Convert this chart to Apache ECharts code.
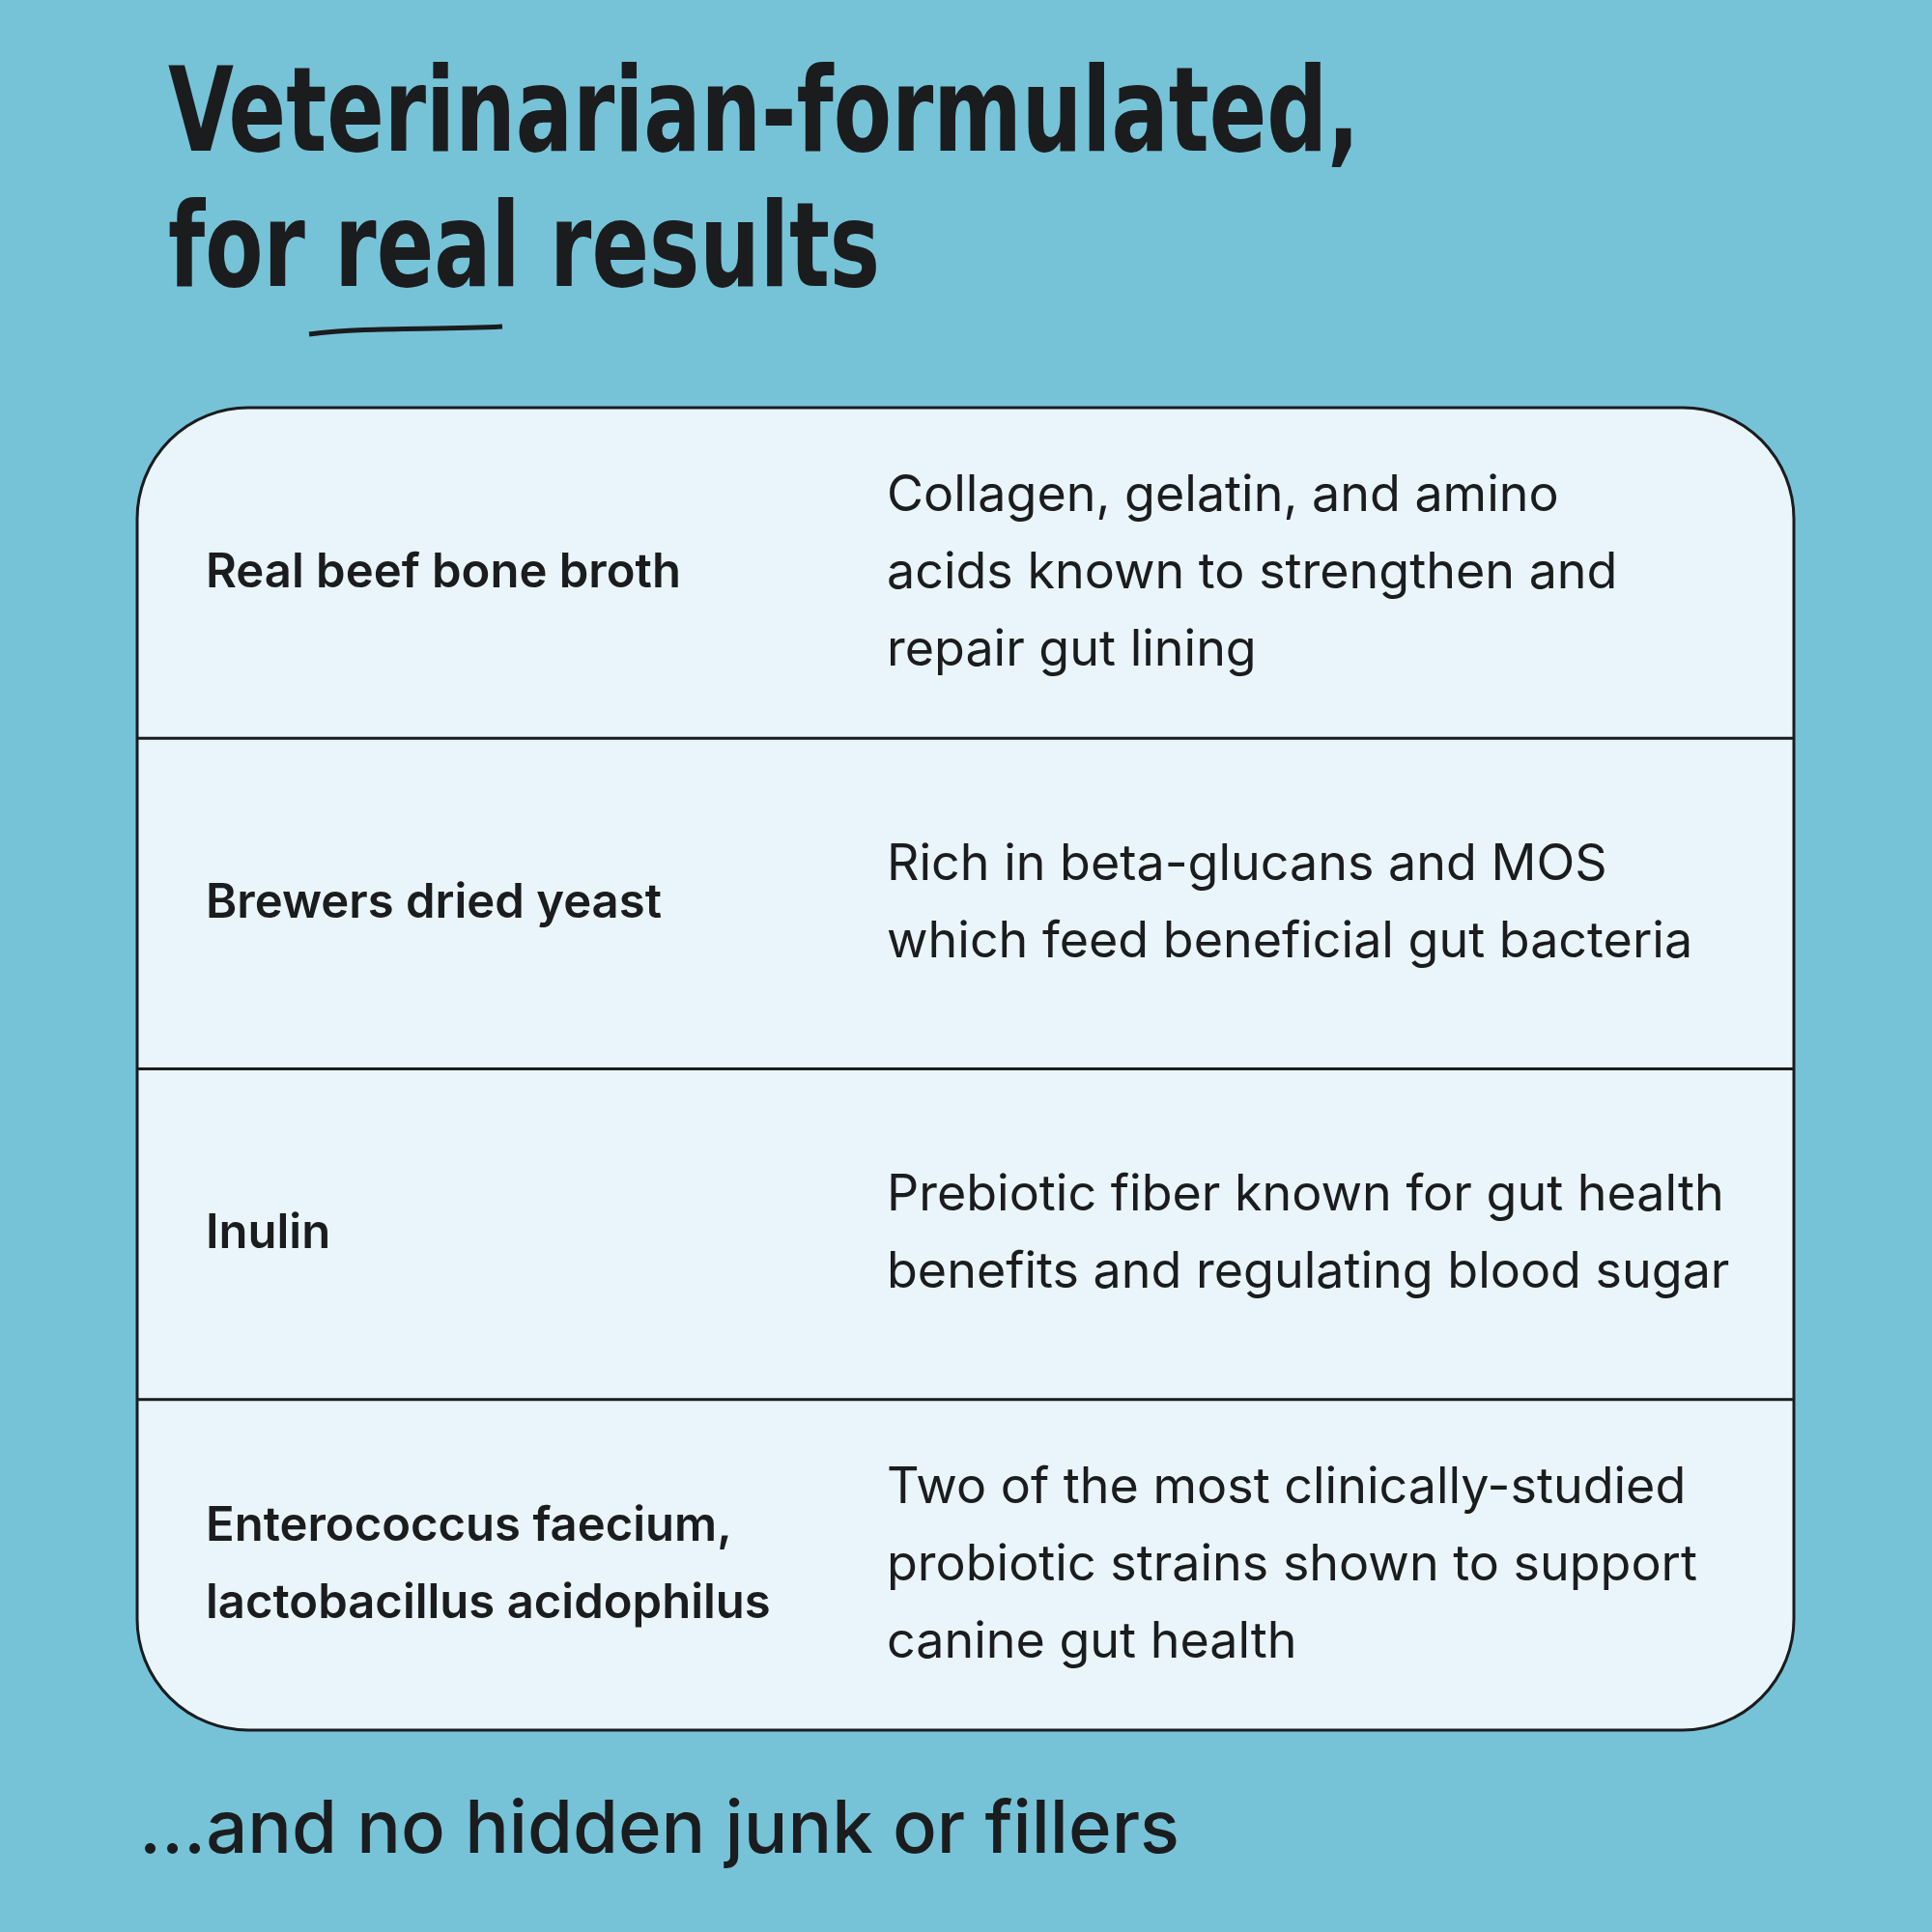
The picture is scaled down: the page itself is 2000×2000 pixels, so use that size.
<!DOCTYPE html>
<html>
<head>
<meta charset="utf-8">
<script src="https://cdn.jsdelivr.net/npm/echarts@6/dist/echarts.min.js"></script>
<style>html,body{margin:0;padding:0;background:#76c3d8}#c{width:2000px;height:2000px}</style>
</head>
<body>
<div id="c"></div>
<script>
const titleLines = ['Veterinarian-formulated,', 'for real results']
const ingredients = ['Real beef bone broth', 'Brewers dried yeast', 'Inulin', 'Enterococcus faecium,\nlactobacillus acidophilus']
const benefits = [
  'Collagen, gelatin, and amino\nacids known to strengthen and\nrepair gut lining',
  'Rich in beta-glucans and MOS\nwhich feed beneficial gut bacteria',
  'Prebiotic fiber known for gut health\nbenefits and regulating blood sugar',
  'Two of the most clinically-studied\nprobiotic strains shown to support\ncanine gut health'
]
const footer = '...and no hidden junk or fillers'

const box = {x: 142, y: 422, w: 1715, h: 1369}
const rowH = box.h / ingredients.length
const ink = '#1b1c1e'

const graphic = [
  {type: 'rect', shape: {x: box.x, y: box.y, width: box.w, height: box.h, r: 115},
   style: {fill: '#eaf5fb', stroke: ink, lineWidth: 3}},
  {type: 'text', x: 145, y: 185, scaleX: 0.8, originX: 145,
   style: {text: titleLines[0], font: 'bold 122px "DejaVu Sans Condensed"', fill: ink, textVerticalAlign: 'bottom'}},
  {type: 'text', x: 145, y: 325, scaleX: 0.8, originX: 145,
   style: {text: titleLines[1], font: 'bold 122px "DejaVu Sans Condensed"', fill: ink, textVerticalAlign: 'bottom'}},
  {type: 'bezierCurve', shape: {x1: 320, y1: 346, cpx1: 380, cpy1: 338, cpx2: 450, cpy2: 342, x2: 520, y2: 338},
   style: {stroke: ink, lineWidth: 5, fill: null}},
  {type: 'text', x: 144, y: 1895,
   style: {text: footer, font: '500 76px Inter', fill: ink, textVerticalAlign: 'middle'}}
]

ingredients.forEach((name, i) => {
  const cy = box.y + rowH * (i + 0.5)
  if (i > 0) graphic.push({type: 'line', shape: {x1: box.x, y1: box.y + rowH * i, x2: box.x + box.w, y2: box.y + rowH * i},
    style: {stroke: ink, lineWidth: 3}})
  graphic.push({type: 'text', x: 213, y: cy,
    style: {text: name, font: '600 49px Inter', fill: ink, textVerticalAlign: 'middle', lineHeight: 80}})
  graphic.push({type: 'text', x: 918, y: cy,
    style: {text: benefits[i], font: '400 52px Inter', fill: ink, textVerticalAlign: 'middle', lineHeight: 80}})
})

const chart = echarts.init(document.getElementById('c'))
chart.setOption({backgroundColor: '#76c3d8', animation: false, graphic: graphic})
</script>
</body>
</html>
